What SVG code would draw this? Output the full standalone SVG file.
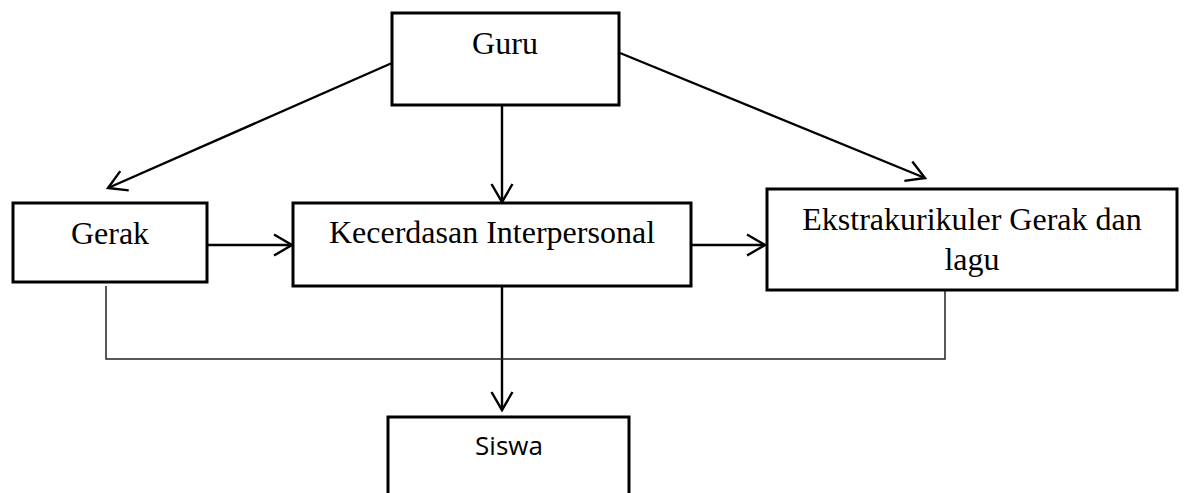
<svg xmlns="http://www.w3.org/2000/svg" width="1184" height="493" viewBox="0 0 1184 493">
<style>
.box{fill:#fff;stroke:#000;stroke-width:3}
.t{font-family:"Liberation Serif","Times New Roman",serif;font-size:32px;fill:#000;text-anchor:middle}
.s{font-family:"Open Sans","Noto Sans",sans-serif;font-size:26px;fill:#000;text-anchor:middle}
.c{fill:none;stroke:#000;stroke-width:2.4}
.thin{fill:none;stroke:#222;stroke-width:1.5}
</style>
<defs>
<marker id="arr" markerUnits="userSpaceOnUse" markerWidth="30" markerHeight="30" viewBox="-22 -15 26 30" refX="0" refY="0" orient="auto">
<path d="M-18,-10.5 L0,0 L-18,10.5" fill="none" stroke="#000" stroke-width="2.4"/>
</marker>
</defs>
<g id="connectors">
<line class="c" x1="392" y1="63" x2="108" y2="188" marker-end="url(#arr)"/>
<line class="c" x1="502" y1="105" x2="502" y2="202" marker-end="url(#arr)"/>
<line class="c" x1="620" y1="53" x2="925" y2="178" marker-end="url(#arr)"/>
<line class="c" x1="207" y1="245" x2="292" y2="245" marker-end="url(#arr)"/>
<line class="c" x1="691" y1="245" x2="765" y2="245" marker-end="url(#arr)"/>
<line class="c" x1="502" y1="286" x2="502" y2="410" marker-end="url(#arr)"/>
<polyline class="thin" points="106,286 106,359 945,359 945,285"/>
</g>
<g id="guru">
<rect class="box" x="392" y="13" width="227" height="92"/>
<text class="t" x="505" y="54">Guru</text>
</g>
<g id="gerak">
<rect class="box" x="13" y="203" width="194" height="79"/>
<text class="t" x="110" y="244">Gerak</text>
</g>
<g id="kecerdasan">
<rect class="box" x="293" y="203" width="398" height="83"/>
<text class="t" x="492" y="243">Kecerdasan Interpersonal</text>
</g>
<g id="ekstrakurikuler">
<rect class="box" x="767" y="189" width="410" height="101"/>
<text class="t" x="972" y="230">Ekstrakurikuler Gerak dan</text>
<text class="t" x="972" y="270">lagu</text>
</g>
<g id="siswa">
<rect class="box" x="388" y="417" width="241" height="90"/>
<text class="s" x="509" y="455">Siswa</text>
</g>
</svg>
